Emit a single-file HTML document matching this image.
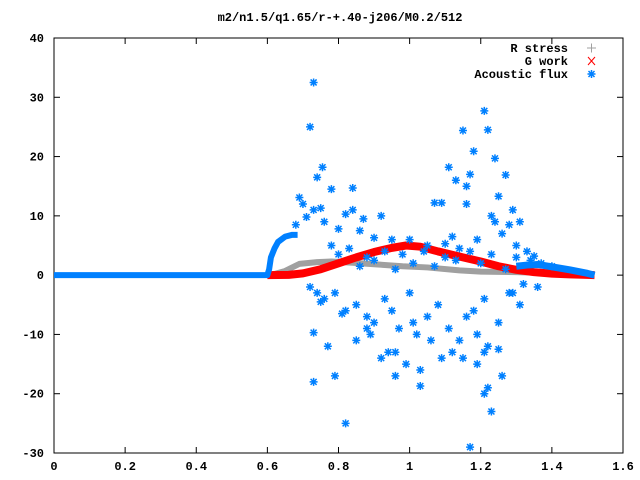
<!DOCTYPE html>
<html><head><meta charset="utf-8"><style>
html,body{margin:0;padding:0;background:#fff;}
svg{display:block;font-family:"Liberation Mono","DejaVu Sans Mono",monospace;font-size:12px;font-weight:bold;}
</style></head><body>
<svg id="chart" width="640" height="480" viewBox="0 0 640 480">
<rect x="0" y="0" width="640" height="480" fill="#fff"/>
<text x="340" y="21" text-anchor="middle">m2/n1.5/q1.65/r-+.40-j206/M0.2/512</text>
<g id="axes"></g>
<g id="series"></g>
<g id="legend"></g>
</svg>
<script>
const xTicks=[0,0.2,0.4,0.6,0.8,1,1.2,1.4,1.6];
const xTickLabels=["0","0.2","0.4","0.6","0.8","1","1.2","1.4","1.6"];
const yTicks=[40,30,20,10,0,-10,-20,-30];
const yTickLabels=["40","30","20","10","0","-10","-20","-30"];
const rX=[0.6,0.62,0.65,0.69,0.74,0.78,0.84,0.91,0.98,1.05,1.14,1.2,1.3,1.4,1.5,1.52];
const rY=[0,0.2,0.7,1.9,2.2,2.3,2.1,1.8,1.5,1.3,0.8,0.6,0.5,0.35,0.2,0.1];
const gX=[0.6,0.66,0.7,0.75,0.8,0.85,0.9,0.95,0.99,1.03,1.08,1.15,1.2,1.25,1.3,1.35,1.4,1.45,1.5,1.52];
const gY=[0,0.05,0.3,1.0,2.0,3.0,3.9,4.6,5.0,4.8,4.0,3.0,2.3,1.5,0.9,0.5,0.25,0.12,0.05,0];
const fLineX=[0,0.6,0.605,0.61,0.62,0.63,0.65,0.67,0.685];
const fLineY=[0,0,1,3,4.5,5.6,6.5,6.8,6.8];
const fTailX=[1.3,1.33,1.36,1.4,1.45,1.5,1.52];
const fTailY=[1.5,1.7,1.8,1.4,0.9,0.3,0];
const fX=[0.73,0.72,0.755,0.74,0.78,0.84,0.84,0.87,0.82,0.69,0.7,0.73,0.75,0.68,0.71,0.76,0.8,0.86,0.9,0.92,0.95,1.0,1.05,1.1,1.14,
1.21,1.15,1.22,1.18,1.24,1.11,1.17,1.27,1.13,1.16,1.25,1.09,1.07,1.16,1.29,1.23,1.24,1.31,1.28,1.26,1.19,1.12,1.3,1.33,1.35,
0.78,0.8,0.83,0.86,0.88,0.9,0.93,0.96,0.98,1.01,1.04,1.07,1.1,1.13,1.17,1.2,1.23,1.27,1.3,1.34,1.37,1.4,1.32,1.36,1.29,
0.72,0.76,0.79,0.82,0.85,0.88,0.9,0.93,0.95,0.97,1.0,1.02,1.05,1.08,1.11,1.14,1.18,1.21,1.25,1.28,1.31,1.22,1.19,1.16,1.12,
0.73,0.77,0.81,0.85,0.89,0.92,0.96,0.99,1.03,1.06,1.09,1.15,1.19,1.21,1.25,1.17,0.82,1.21,1.23,1.22,0.73,0.79,1.26,1.03,0.96,0.75,0.74,0.88,0.94,1.01];
const fY=[32.5,25,18.2,16.5,14.5,14.7,11,9.5,10.3,13.1,12,11,11.3,8.5,9.8,9,7.8,7.5,6.3,10,6,6,5,5.3,4.5,
27.7,24.4,24.5,20.9,19.7,18.2,17,16.9,16,15,13.3,12.2,12.2,12,11,10,9,9,8.5,7,6,6.5,5,4,3.2,
5,3.5,4.5,1.5,3,2.5,4,1,3.5,2,4,1.5,3,2.5,4,2,3.5,1,3,2.5,2,1.5,-1.5,-2,-3,
-2,-4,-3,-6,-5,-7,-8,-4,-6,-9,-3,-10,-7,-5,-9,-11,-6,-4,-8,-3,-5,-12,-10,-7,-13,
-9.7,-12,-6.5,-11,-10,-14,-13,-15,-16,-11,-14,-14,-15,-13,-12.5,-29,-25,-20,-23,-19,-18,-17,-17,-18.7,-17,-4.5,-3,-9,-13,-8];

const L=54,R=623,T=38,B=453;
const X=v=>L+(v-0)/(1.6-0)*(R-L);
const Y=v=>T+(40-v)/(40-(-30))*(B-T);
const NS="http://www.w3.org/2000/svg";
function mk(tag,attrs,parent){const e=document.createElementNS(NS,tag);for(const k in attrs)e.setAttribute(k,attrs[k]);parent.appendChild(e);return e;}
const axes=document.getElementById('axes'),ser=document.getElementById('series'),leg=document.getElementById('legend');

xTicks.forEach((t,i)=>{
 const a=mk('line',{x1:X(t),x2:X(t),y1:B,y2:B-6,stroke:'#000'},axes);
 
 
 const b=mk('line',{x1:X(t),x2:X(t),y1:T,y2:T+6,stroke:'#000'},axes);
 
 
 const tx=mk('text',{x:X(t),y:B+17,'text-anchor':'middle'},axes);tx.textContent=xTickLabels[i];
 
 
});
yTicks.forEach((t,i)=>{
 const a=mk('line',{x1:L,x2:L+6,y1:Y(t),y2:Y(t),stroke:'#000'},axes);
 
 
 const b=mk('line',{x1:R,x2:R-6,y1:Y(t),y2:Y(t),stroke:'#000'},axes);
 
 
 const tx=mk('text',{x:L-10,y:Y(t)+4,'text-anchor':'end'},axes);tx.textContent=yTickLabels[i];
 
 
});
const fr=mk('rect',{x:L,y:T,width:R-L,height:B-T,fill:'none',stroke:'#000'},axes);



function pts(xs,ys){return xs.map((v,i)=>X(v)+','+Y(ys[i])).join(' ');}
const l1=mk('polyline',{points:pts(rX,rY),fill:'none',stroke:'#a0a0a0','stroke-width':6,'stroke-linejoin':'round'},ser);


const l2=mk('polyline',{points:pts(gX,gY),fill:'none',stroke:'#ff0000','stroke-width':8,'stroke-linejoin':'round'},ser);


const l3=mk('polyline',{points:pts(fLineX,fLineY),fill:'none',stroke:'#0080ff','stroke-width':6,'stroke-linejoin':'round'},ser);


const l4=mk('polyline',{points:pts(fTailX,fTailY),fill:'none',stroke:'#0080ff','stroke-width':7,'stroke-linejoin':'round'},ser);



function star(cx,cy,parent,col){
 const g=mk('path',{d:`M${cx-4},${cy}H${cx+4}M${cx},${cy-4}V${cy+4}M${cx-3},${cy-3}L${cx+3},${cy+3}M${cx-3},${cy+3}L${cx+3},${cy-3}`,stroke:col,'stroke-width':1.5,fill:'none'},parent);
 return g;
}
fX.forEach((v,i)=>{
 const s=star(X(v),Y(fY[i]),ser,'#0080ff');
 
 
});

const names=["R stress","G work","Acoustic flux"];
names.forEach((n,i)=>{
 const y=48+i*13;
 const t=mk('text',{x:568,y:y+4,'text-anchor':'end'},leg);t.textContent=n;
 
 
 let m;
 if(i===0)m=mk('path',{d:`M587,${y}H596M591.5,${y-4.5}V${y+4.5}`,stroke:'#a0a0a0','stroke-width':1},leg);
 else if(i===1)m=mk('path',{d:`M588,${y-4}L595,${y+4}M588,${y+4}L595,${y-4}`,stroke:'#ff0000','stroke-width':1},leg);
 else m=star(591.5,y,leg,'#0080ff');
 
 
});
</script>
</body></html>
